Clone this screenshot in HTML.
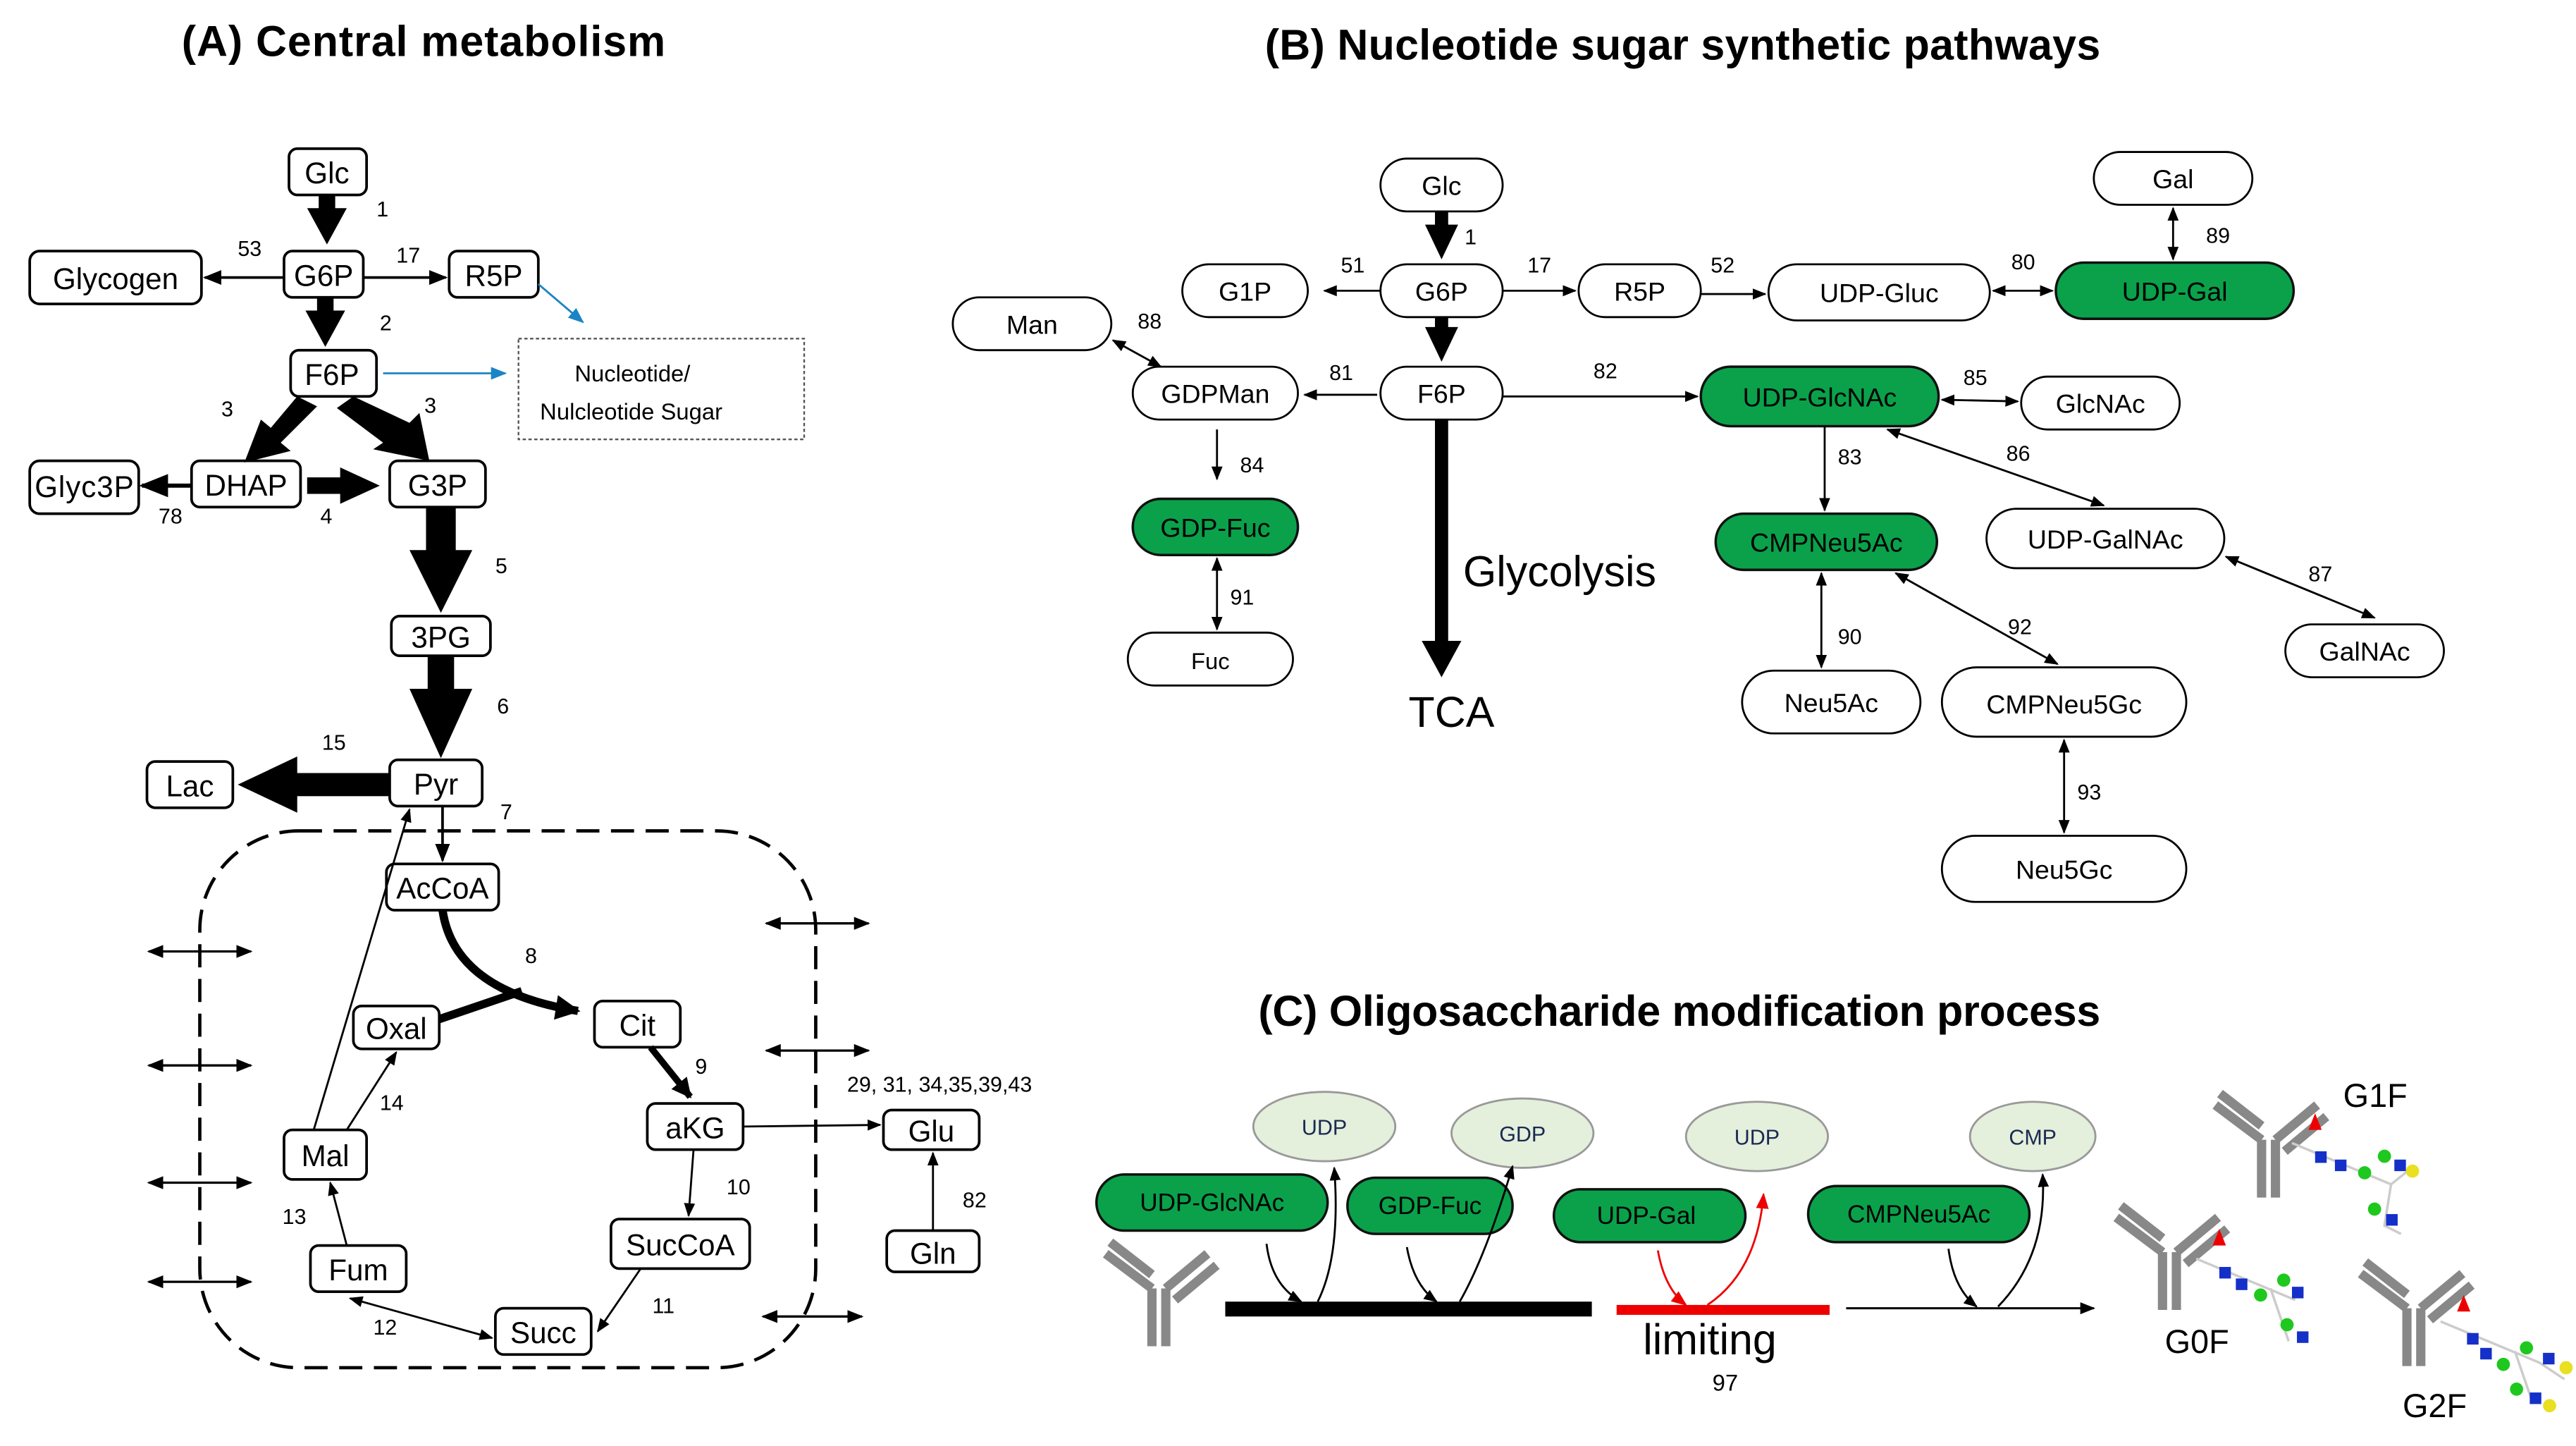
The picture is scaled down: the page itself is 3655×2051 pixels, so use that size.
<!DOCTYPE html>
<html><head><meta charset="utf-8"><style>
html,body{margin:0;padding:0;background:#fff}
svg{display:block}
text{font-family:"Liberation Sans",sans-serif}
</style></head><body>
<svg width="3655" height="2051" viewBox="0 0 1560 875.4" preserveAspectRatio="none" xmlns="http://www.w3.org/2000/svg">
<defs>
<marker id="a" viewBox="0 0 10 10" refX="9" refY="5" markerWidth="7" markerHeight="7" orient="auto-start-reverse"><path d="M0,1L10,5L0,9z" fill="#000"/></marker>
<marker id="b" viewBox="0 0 10 10" refX="9" refY="5" markerWidth="8" markerHeight="8" orient="auto"><path d="M0,1L10,5L0,9z" fill="#1b84c4"/></marker>
<marker id="r" viewBox="0 0 10 10" refX="9" refY="5" markerWidth="8" markerHeight="8" orient="auto"><path d="M0,1L10,5L0,9z" fill="#e00"/></marker>
<marker id="f" viewBox="0 0 10 10" refX="9" refY="5" markerWidth="3" markerHeight="3" orient="auto"><path d="M0,0L10,5L0,10z" fill="#000"/></marker>
</defs>

<text x="110" y="34" font-size="26" font-weight="bold" textLength="293">(A) Central metabolism</text>
<text x="766" y="36" font-size="26" font-weight="bold" textLength="506">(B) Nucleotide sugar synthetic pathways</text>
<text x="762" y="621" font-size="26" font-weight="bold" textLength="510">(C) Oligosaccharide modification process</text>

<g fill="#fff" stroke="#000" stroke-width="1.6">
<rect x="175" y="90" width="47" height="28" rx="5"/>
<rect x="172" y="152" width="48" height="28" rx="5"/>
<rect x="18" y="152" width="104" height="32" rx="6"/>
<rect x="272" y="152" width="54" height="28" rx="5"/>
<rect x="176" y="212" width="52" height="28" rx="5"/>
<rect x="18" y="279" width="66" height="32" rx="6"/>
<rect x="116" y="279" width="66" height="28" rx="5"/>
<rect x="236" y="279" width="58" height="28" rx="5"/>
<rect x="237" y="373" width="60" height="24" rx="5"/>
<rect x="236" y="460" width="56" height="28" rx="5"/>
<rect x="89" y="461" width="52" height="28" rx="5"/>
<rect x="234" y="523" width="68" height="28" rx="5"/>
<rect x="214" y="609" width="52" height="26" rx="5"/>
<rect x="360" y="606" width="52" height="28" rx="5"/>
<rect x="392" y="668" width="58" height="28" rx="5"/>
<rect x="535" y="672" width="58" height="24" rx="5"/>
<rect x="537" y="745" width="56" height="25" rx="5"/>
<rect x="172" y="684" width="50" height="30" rx="5"/>
<rect x="370" y="738" width="84" height="30" rx="5"/>
<rect x="188" y="754" width="58" height="28" rx="5"/>
<rect x="300" y="792" width="58" height="28" rx="5"/>
</g>
<rect x="314" y="205" width="173" height="61" fill="none" stroke="#555" stroke-width="1" stroke-dasharray="2,1.5"/>
<rect x="121" y="503" width="373" height="325" rx="60" fill="none" stroke="#000" stroke-width="2" stroke-dasharray="14,7"/>
<g font-size="18" text-anchor="middle">
<text x="198" y="111">Glc</text><text x="196" y="173">G6P</text><text x="70" y="175">Glycogen</text>
<text x="299" y="173">R5P</text><text x="201" y="233">F6P</text><text x="51" y="301" textLength="60">Glyc3P</text>
<text x="149" y="300">DHAP</text><text x="265" y="300">G3P</text><text x="267" y="392">3PG</text>
<text x="264" y="481">Pyr</text><text x="115" y="482">Lac</text><text x="268" y="544">AcCoA</text>
<text x="240" y="629">Oxal</text><text x="386" y="627">Cit</text><text x="421" y="689">aKG</text>
<text x="564" y="691">Glu</text><text x="565" y="765">Gln</text><text x="197" y="706">Mal</text>
<text x="412" y="760">SucCoA</text><text x="217" y="775">Fum</text><text x="329" y="813">Succ</text>
</g>
<text x="348" y="231" font-size="14">Nucleotide/</text>
<text x="327" y="254" font-size="14">Nulcleotide Sugar</text>
<g font-size="13">
<text x="228" y="131">1</text><text x="144" y="155">53</text><text x="240" y="159">17</text><text x="230" y="200">2</text>
<text x="134" y="252">3</text><text x="257" y="250">3</text><text x="96" y="317">78</text><text x="194" y="317">4</text>
<text x="300" y="347">5</text><text x="301" y="432">6</text><text x="195" y="454">15</text><text x="303" y="496">7</text>
<text x="318" y="583">8</text><text x="421" y="650">9</text><text x="230" y="672">14</text><text x="440" y="723">10</text>
<text x="171" y="741">13</text><text x="226" y="808">12</text><text x="395" y="795">11</text>
<text x="513" y="661">29, 31, 34,35,39,43</text><text x="583" y="731">82</text>
</g>
<g fill="#000">
<rect x="193" y="118" width="10" height="10"/><polygon points="186,126 210,126 198,148"/>
<rect x="192" y="180" width="10" height="10"/><polygon points="185,188 209,188 197,210"/>
<polygon points="180,240 192,246 170,268 176,273 148,280 158,254 164,259"/>
<polygon points="214,240 204,247 232,268 226,272 260,279 254,250 248,256"/>
<rect x="186" y="289" width="22" height="10"/><polygon points="206,283 206,305 230,294"/>
<rect x="258" y="307" width="18" height="28"/><polygon points="248,333 286,333 267,371"/>
<rect x="259" y="397" width="16" height="22"/><polygon points="248,417 286,417 267,459"/>
<rect x="176" y="468" width="60" height="14"/><polygon points="180,458 180,492 144,475"/>
</g>
<g stroke="#000" stroke-width="1.6" fill="none">
<line x1="172" y1="168" x2="124" y2="168" marker-end="url(#a)"/>
<line x1="220" y1="168" x2="270" y2="168" marker-end="url(#a)"/>
<line x1="116" y1="294" x2="86" y2="294" marker-end="url(#a)" stroke-width="2.5"/>
<line x1="268" y1="488" x2="268" y2="521" marker-end="url(#a)"/>
<path d="M268,551 Q275,600 350,612" stroke-width="5" marker-end="url(#f)"/>
<line x1="266" y1="617" x2="316" y2="600" stroke-width="5"/>
<line x1="394" y1="634" x2="418" y2="664" stroke-width="4" marker-end="url(#f)"/>
<line x1="450" y1="682" x2="533" y2="681" marker-end="url(#a)" stroke-width="1.2"/>
<line x1="565" y1="745" x2="565" y2="698" marker-end="url(#a)" stroke-width="1.2"/>
<line x1="420" y1="696" x2="417" y2="736" marker-end="url(#a)" stroke-width="1.2"/>
<line x1="388" y1="768" x2="362" y2="806" marker-end="url(#a)" stroke-width="1.2"/>
<line x1="298" y1="810" x2="212" y2="786" marker-end="url(#a)" marker-start="url(#a)" stroke-width="1.2"/>
<line x1="210" y1="754" x2="200" y2="716" marker-end="url(#a)" stroke-width="1.2"/>
<line x1="210" y1="684" x2="240" y2="637" marker-end="url(#a)" stroke-width="1.2"/>
<line x1="190" y1="684" x2="248" y2="490" marker-end="url(#a)" stroke-width="1.2"/>
<line x1="90" y1="576" x2="152" y2="576" marker-end="url(#a)" marker-start="url(#a)" stroke-width="1.4"/>
<line x1="90" y1="645" x2="152" y2="645" marker-end="url(#a)" marker-start="url(#a)" stroke-width="1.4"/>
<line x1="90" y1="716" x2="152" y2="716" marker-end="url(#a)" marker-start="url(#a)" stroke-width="1.4"/>
<line x1="90" y1="776" x2="152" y2="776" marker-end="url(#a)" marker-start="url(#a)" stroke-width="1.4"/>
<line x1="464" y1="559" x2="526" y2="559" marker-end="url(#a)" marker-start="url(#a)" stroke-width="1.4"/>
<line x1="464" y1="636" x2="526" y2="636" marker-end="url(#a)" marker-start="url(#a)" stroke-width="1.4"/>
<line x1="462" y1="797" x2="522" y2="797" marker-end="url(#a)" marker-start="url(#a)" stroke-width="1.4"/>
</g>
<line x1="326" y1="172" x2="353" y2="195" stroke="#1b84c4" stroke-width="1.2" marker-end="url(#b)"/>
<line x1="232" y1="226" x2="306" y2="226" stroke="#1b84c4" stroke-width="1.2" marker-end="url(#b)"/>

<g fill="#fff" stroke="#000" stroke-width="1.2">
<rect x="836" y="96" width="74" height="32" rx="16"/>
<rect x="836" y="160" width="74" height="32" rx="16"/>
<rect x="836" y="222" width="74" height="32" rx="16"/>
<rect x="716" y="160" width="76" height="32" rx="16"/>
<rect x="956" y="160" width="74" height="32" rx="16"/>
<rect x="1071" y="160" width="134" height="34" rx="17"/>
<rect x="1268" y="92" width="96" height="32" rx="16"/>
<rect x="577" y="180" width="96" height="32" rx="16"/>
<rect x="686" y="222" width="100" height="32" rx="16"/>
<rect x="683" y="383" width="100" height="32" rx="16"/>
<rect x="1224" y="228" width="96" height="32" rx="16"/>
<rect x="1203" y="308" width="144" height="36" rx="18"/>
<rect x="1384" y="378" width="96" height="32" rx="16"/>
<rect x="1055" y="406" width="108" height="38" rx="19"/>
<rect x="1176" y="404" width="148" height="42" rx="21"/>
<rect x="1176" y="506" width="148" height="40" rx="20"/>
</g>
<g fill="#0aa14a" stroke="#111" stroke-width="1.5">
<rect x="1245" y="159" width="144" height="34" rx="17"/>
<rect x="686" y="302" width="100" height="34" rx="17"/>
<rect x="1030" y="222" width="144" height="36" rx="18"/>
<rect x="1039" y="311" width="134" height="34" rx="17"/>
</g>
<g font-size="16" text-anchor="middle">
<text x="873" y="118">Glc</text><text x="873" y="182">G6P</text><text x="873" y="244">F6P</text>
<text x="754" y="182">G1P</text><text x="993" y="182">R5P</text><text x="1138" y="183">UDP-Gluc</text>
<text x="1317" y="182">UDP-Gal</text><text x="1316" y="114">Gal</text><text x="625" y="202">Man</text>
<text x="736" y="244">GDPMan</text><text x="736" y="325">GDP-Fuc</text><text x="733" y="405" font-size="14">Fuc</text>
<text x="1102" y="246">UDP-GlcNAc</text><text x="1272" y="250">GlcNAc</text><text x="1106" y="334">CMPNeu5Ac</text>
<text x="1275" y="332">UDP-GalNAc</text><text x="1432" y="400">GalNAc</text><text x="1109" y="431">Neu5Ac</text>
<text x="1250" y="432">CMPNeu5Gc</text><text x="1250" y="532">Neu5Gc</text>
</g>
<g font-size="13">
<text x="887" y="148">1</text><text x="812" y="165">51</text><text x="925" y="165">17</text><text x="1036" y="165">52</text>
<text x="1218" y="163">80</text><text x="1336" y="147">89</text><text x="689" y="199">88</text><text x="805" y="230">81</text>
<text x="965" y="229">82</text><text x="1189" y="233">85</text><text x="1113" y="281">83</text><text x="1215" y="279">86</text>
<text x="751" y="286">84</text><text x="745" y="366">91</text><text x="1113" y="390">90</text><text x="1216" y="384">92</text>
<text x="1398" y="352">87</text><text x="1258" y="484">93</text>
</g>
<text x="886" y="355" font-size="26">Glycolysis</text>
<text x="853" y="440" font-size="26">TCA</text>
<g fill="#000">
<rect x="869" y="128" width="8" height="10"/><polygon points="863,136 883,136 873,157"/>
<rect x="869" y="192" width="8" height="8"/><polygon points="863,198 883,198 873,219"/>
<rect x="869" y="254" width="8" height="136"/><polygon points="861,388 885,388 873,410"/>
</g>
<g stroke="#000" stroke-width="1.2" fill="none">
<line x1="836" y1="176" x2="802" y2="176" marker-end="url(#a)"/>
<line x1="910" y1="176" x2="954" y2="176" marker-end="url(#a)"/>
<line x1="1030" y1="178" x2="1069" y2="178" marker-end="url(#a)"/>
<line x1="1207" y1="176" x2="1243" y2="176" marker-end="url(#a)" marker-start="url(#a)"/>
<line x1="1316" y1="126" x2="1316" y2="157" marker-end="url(#a)" marker-start="url(#a)"/>
<line x1="834" y1="239" x2="790" y2="239" marker-end="url(#a)"/>
<line x1="703" y1="222" x2="674" y2="206" marker-end="url(#a)" marker-start="url(#a)"/>
<line x1="910" y1="240" x2="1028" y2="240" marker-end="url(#a)"/>
<line x1="1176" y1="242" x2="1222" y2="243" marker-end="url(#a)" marker-start="url(#a)"/>
<line x1="1105" y1="258" x2="1105" y2="309" marker-end="url(#a)"/>
<line x1="1143" y1="260" x2="1274" y2="306" marker-end="url(#a)" marker-start="url(#a)"/>
<line x1="737" y1="260" x2="737" y2="290" marker-end="url(#a)"/>
<line x1="737" y1="338" x2="737" y2="381" marker-end="url(#a)" marker-start="url(#a)"/>
<line x1="1103" y1="347" x2="1103" y2="404" marker-end="url(#a)" marker-start="url(#a)"/>
<line x1="1148" y1="347" x2="1246" y2="402" marker-end="url(#a)" marker-start="url(#a)"/>
<line x1="1348" y1="337" x2="1438" y2="374" marker-end="url(#a)" marker-start="url(#a)"/>
<line x1="1250" y1="448" x2="1250" y2="504" marker-end="url(#a)" marker-start="url(#a)"/>
</g>

<g fill="#e4efdc" stroke="#999" stroke-width="1.2">
<ellipse cx="802" cy="682" rx="43" ry="21"/>
<ellipse cx="922" cy="686" rx="43" ry="21"/>
<ellipse cx="1064" cy="688" rx="43" ry="21"/>
<ellipse cx="1231" cy="688" rx="38" ry="21"/>
</g>
<g font-size="13" fill="#1a2a50" text-anchor="middle">
<text x="802" y="687">UDP</text><text x="922" y="691">GDP</text><text x="1064" y="693">UDP</text><text x="1231" y="693">CMP</text>
</g>
<g fill="#0aa14a" stroke="#111" stroke-width="1.5">
<rect x="664" y="711" width="140" height="34" rx="17"/>
<rect x="816" y="713" width="100" height="34" rx="17"/>
<rect x="941" y="720" width="116" height="32" rx="16"/>
<rect x="1095" y="718" width="134" height="34" rx="17"/>
</g>
<g font-size="15" text-anchor="middle">
<text x="734" y="733">UDP-GlcNAc</text><text x="866" y="735">GDP-Fuc</text><text x="997" y="741">UDP-Gal</text><text x="1162" y="740">CMPNeu5Ac</text>
</g>
<rect x="742" y="788" width="222" height="9" fill="#000"/>
<rect x="979" y="790" width="129" height="6" fill="#e00"/>
<line x1="1118" y1="792" x2="1268" y2="792" stroke="#000" stroke-width="1.3" marker-end="url(#a)"/>
<g stroke="#000" stroke-width="1.2" fill="none">
<path d="M767,753 Q770,778 788,788" marker-end="url(#a)"/>
<path d="M798,788 Q812,760 808,707" marker-end="url(#a)"/>
<path d="M852,755 Q856,778 870,788" marker-end="url(#a)"/>
<path d="M884,788 Q900,760 916,706" marker-end="url(#a)"/>
<path d="M1180,756 Q1183,780 1197,791" marker-end="url(#a)"/>
<path d="M1210,791 Q1240,760 1237,711" marker-end="url(#a)"/>
</g>
<g stroke="#e00" stroke-width="1.2" fill="none">
<path d="M1004,757 Q1008,780 1021,790" marker-end="url(#r)"/>
<path d="M1034,790 Q1064,770 1068,723" marker-end="url(#r)"/>
</g>
<text x="995" y="820" font-size="26">limiting</text>
<text x="1037" y="842" font-size="14">97</text>

<g stroke="#888" stroke-width="4" fill="none" stroke-linecap="butt">
<g transform="translate(706,780) scale(1.4)">
<path d="M0,0 L0,25 M-6,0 L-6,25 M0,0 L18,-15 M4,5 L22,-10 M-6,0 L-26,-15 M-6,-6 L-24,-20"/>
</g>
<g transform="translate(1378,690) scale(1.4)">
<path d="M0,0 L0,25 M-6,0 L-6,25 M0,0 L18,-15 M4,5 L22,-10 M-6,0 L-26,-15 M-6,-6 L-24,-20"/>
</g>
<g transform="translate(1318,758) scale(1.4)">
<path d="M0,0 L0,25 M-6,0 L-6,25 M0,0 L18,-15 M4,5 L22,-10 M-6,0 L-26,-15 M-6,-6 L-24,-20"/>
</g>
<g transform="translate(1466,792) scale(1.4)">
<path d="M0,0 L0,25 M-6,0 L-6,25 M0,0 L18,-15 M4,5 L22,-10 M-6,0 L-26,-15 M-6,-6 L-24,-20"/>
</g>
</g>
<g>
<g transform="translate(1388,672)">
<path d="M0,20 L60,45 L70,37 M60,45 L56,70 L66,75" stroke="#ccc" stroke-width="1.5" fill="none"/>
<polygon points="10,12 14,2 18,12" fill="#e00"/>
<rect x="14" y="25" width="7" height="7" fill="#1430c8"/><rect x="26" y="30" width="7" height="7" fill="#1430c8"/>
<circle cx="44" cy="38" r="4" fill="#1ec81e"/><circle cx="56" cy="28" r="4" fill="#1ec81e"/>
<rect x="62" y="30" width="7" height="7" fill="#1430c8"/><circle cx="73" cy="37" r="4" fill="#e8e020"/>
<circle cx="50" cy="60" r="4" fill="#1ec81e"/><rect x="57" y="63" width="7" height="7" fill="#1430c8"/>
</g>
<g transform="translate(1330,742)">
<path d="M0,20 L60,45 M45,38 L56,70" stroke="#ccc" stroke-width="1.5" fill="none"/>
<polygon points="10,12 14,2 18,12" fill="#e00"/>
<rect x="14" y="25" width="7" height="7" fill="#1430c8"/><rect x="24" y="32" width="7" height="7" fill="#1430c8"/>
<circle cx="39" cy="42" r="4" fill="#1ec81e"/><circle cx="53" cy="33" r="4" fill="#1ec81e"/>
<rect x="58" y="37" width="7" height="7" fill="#1430c8"/>
<circle cx="55" cy="60" r="4" fill="#1ec81e"/><rect x="61" y="64" width="7" height="7" fill="#1430c8"/>
</g>
<g transform="translate(1478,780)">
<path d="M0,20 L60,45 L75,55 M45,38 L56,70" stroke="#ccc" stroke-width="1.5" fill="none"/>
<polygon points="10,14 14,4 18,14" fill="#e00"/>
<rect x="16" y="27" width="7" height="7" fill="#1430c8"/><rect x="24" y="36" width="7" height="7" fill="#1430c8"/>
<circle cx="38" cy="46" r="4" fill="#1ec81e"/><circle cx="52" cy="36" r="4" fill="#1ec81e"/>
<rect x="62" y="39" width="7" height="7" fill="#1430c8"/><circle cx="76" cy="48" r="4" fill="#e8e020"/>
<circle cx="46" cy="61" r="4" fill="#1ec81e"/><rect x="54" y="63" width="7" height="7" fill="#1430c8"/><circle cx="66" cy="71" r="4" fill="#e8e020"/>
</g>
</g>
<g font-size="20">
<text x="1419" y="670">G1F</text><text x="1311" y="819">G0F</text><text x="1455" y="858">G2F</text>
</g>
</svg>
</body></html>
